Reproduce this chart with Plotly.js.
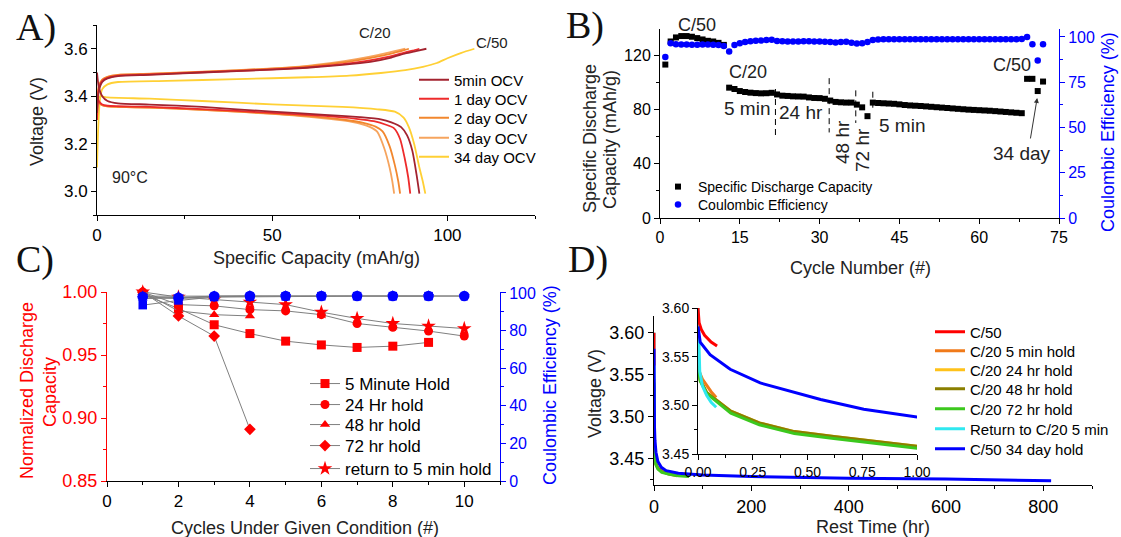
<!DOCTYPE html>
<html><head><meta charset="utf-8">
<script src="https://cdn.plot.ly/plotly-3.0.1.min.js"></script>
<style>html,body{margin:0;padding:0;background:#fff;}#chart{width:1121px;height:537px;}</style>
</head><body><div id="chart"></div>
<script>
// ---------- Panel A: voltage vs specific capacity ----------
const aCh5minX = [0, 0.5, 1.5, 3, 6, 15, 30, 50, 60, 70, 78, 84, 88, 91, 94];
const aCh5minV = [3.33, 3.42, 3.46, 3.475, 3.485, 3.49, 3.50, 3.512, 3.52, 3.532, 3.545, 3.563, 3.58, 3.59, 3.60];
const aCh1dX = [0, 0.5, 1.5, 3, 6, 15, 30, 50, 60, 70, 77, 83, 87, 90, 92];
const aCh1dV = [3.30, 3.43, 3.465, 3.478, 3.487, 3.492, 3.501, 3.513, 3.522, 3.535, 3.549, 3.566, 3.581, 3.592, 3.60];
const aCh2dX = [0, 0.5, 1.5, 3, 6, 15, 30, 50, 60, 68, 75, 81, 85, 87.5, 89];
const aCh2dV = [3.30, 3.44, 3.47, 3.482, 3.49, 3.494, 3.503, 3.516, 3.526, 3.538, 3.553, 3.570, 3.584, 3.593, 3.60];
const aCh3dX = [0, 0.5, 1.5, 3, 6, 15, 30, 50, 60, 67, 74, 80, 84, 86.5, 88];
const aCh3dV = [3.30, 3.44, 3.47, 3.482, 3.49, 3.495, 3.504, 3.517, 3.528, 3.54, 3.556, 3.573, 3.587, 3.595, 3.60];
const aCh34dX = [0, 0.3, 0.8, 1.5, 3, 6, 20, 40, 60, 72, 81, 88, 93, 97, 100, 104, 107.7];
const aCh34dV = [3.10, 3.25, 3.38, 3.43, 3.45, 3.46, 3.465, 3.472, 3.48, 3.487, 3.498, 3.51, 3.524, 3.54, 3.56, 3.583, 3.60];
const aDis5minX = [0, 0.5, 1.5, 3, 6, 15, 30, 50, 65, 75, 81, 84, 86.8, 88.5, 90, 91.2, 92];
const aDis5minV = [3.50, 3.44, 3.40, 3.38, 3.37, 3.365, 3.355, 3.335, 3.322, 3.312, 3.303, 3.29, 3.27, 3.235, 3.17, 3.07, 2.99];
const aDis1dX = [0, 0.5, 1.5, 3, 6, 15, 30, 50, 65, 74, 79, 82.5, 84.8, 86.5, 87.8, 88.8, 89.4];
const aDis1dV = [3.41, 3.38, 3.365, 3.36, 3.358, 3.355, 3.346, 3.33, 3.317, 3.305, 3.295, 3.28, 3.265, 3.22, 3.14, 3.06, 2.99];
const aDis2dX = [0, 0.5, 1.5, 3, 6, 15, 30, 50, 63, 71, 76, 79.5, 81.5, 83.5, 85, 86, 86.5];
const aDis2dV = [3.40, 3.375, 3.362, 3.357, 3.355, 3.352, 3.343, 3.327, 3.313, 3.30, 3.288, 3.272, 3.252, 3.19, 3.11, 3.04, 2.99];
const aDis3dX = [0, 0.5, 1.5, 3, 6, 15, 30, 50, 62, 70, 75, 78, 80, 82, 83.5, 84.3, 84.8];
const aDis3dV = [3.40, 3.375, 3.362, 3.357, 3.355, 3.352, 3.343, 3.326, 3.311, 3.298, 3.285, 3.27, 3.25, 3.18, 3.10, 3.04, 2.99];
const aDis34dX = [0, 0.3, 1, 3, 15, 30, 50, 70, 80, 85, 87.5, 89, 90.5, 92, 93, 93.7];
const aDis34dV = [3.42, 3.39, 3.40, 3.395, 3.39, 3.38, 3.366, 3.355, 3.345, 3.335, 3.31, 3.27, 3.20, 3.10, 3.04, 2.99];
const aNames = ['5min OCV', '1 day OCV', '2 day OCV', '3 day OCV', '34 day OCV'];

// ---------- Panel B: cycling ----------
const bCycle = Array.from({length: 72}, (_, i) => i + 1);
const bCapacity = [113, 130, 133, 134, 134, 133.5, 132.5, 131.5, 130.5, 130, 129, 127.5,
  96, 95, 93.5, 92.8, 92.3, 92, 91.8, 91.9, 92.2,
  91, 90.1, 89.9, 89.6, 89.5, 89.4, 88.8, 88.4, 88.3, 87.8,
  86.5, 85.5, 85.2, 85, 85,
  83.5, 81.5, 75,
  85, 84.7, 84.5, 84.3, 84.1, 83.7, 83.2, 82.9, 82.7, 82.5,
  82.2, 81.9, 81.6, 81.3, 81, 80.7, 80.4, 80.1, 79.8, 79.6, 79.4, 79.2, 79, 78.7, 78.4, 78.1, 77.8, 77.5, 77.2,
  102.5, 102.5, 93.5, 100.5];
const bCE = [89, 96.5, 96, 95.8, 95.8, 95.7, 95.7, 95.8, 95.8, 95.7, 95.5, 95,
  92, 95.5, 96.5, 97.2, 97.6, 97.9, 98.1, 98.3, 98.4,
  97.8, 97.6, 97.5, 97.5, 97.5, 97.6, 97.6, 97.5, 97.5, 97.4,
  97.2, 97, 97.2, 97.3, 96.8,
  96.4, 96.5, 97.2,
  98.3, 98.6, 98.7, 98.8, 98.8, 98.8, 98.8, 98.8, 98.8, 98.8,
  98.8, 98.8, 98.8, 98.8, 98.8, 98.8, 98.8, 98.8, 98.8, 98.8, 98.8, 98.8, 98.8, 98.8, 98.8, 98.8, 98.8, 98.8, 98.9,
  100, 96, 87, 96];
const bDividerCycle = [21.7, 31.8, 36.8, 40];
const bDividerTop = [95, 103, 94, 93];
const bDividerBottom = [60, 63, 70, 80];

// ---------- Panel C: normalized capacity & CE per condition ----------
const cNames = ['5 Minute Hold', '24 Hr hold', '48 hr hold', '72 hr hold', 'return to 5 min hold'];
const cCycles = [[1,2,3,4,5,6,7,8,9], [1,2,3,4,5,6,7,8,9,10], [1,2,3,4], [1,2,3,4], [1,2,3,4,5,6,7,8,9,10]];
const cCapacity = [
  [0.998, 0.987, 0.974, 0.967, 0.961, 0.958, 0.956, 0.957, 0.960],
  [1.0, 0.990, 0.989, 0.986, 0.985, 0.982, 0.975, 0.972, 0.969, 0.965],
  [1.0, 0.985, 0.982, 0.981],
  [1.0, 0.981, 0.965, 0.891],
  [1.0, 0.996, 0.994, 0.992, 0.990, 0.984, 0.979, 0.975, 0.973, 0.971]];
const cCE = [
  [93.5, 96, 97.8, 98, 98.2, 98.3, 98.3, 98.3, 98.3],
  [98, 97.5, 98.3, 98.4, 98.4, 98.4, 98.4, 98.4, 98.4, 98.4],
  [97, 97.3, 98, 98.2],
  [98, 97, 98.2, 98.3],
  [98.3, 98.2, 98.3, 98.4, 98.4, 98.4, 98.4, 98.4, 98.4, 98.3]];
const cSymbols = ['square', 'circle', 'triangle-up', 'diamond', 'star'];

// ---------- Panel D: rest voltage vs time ----------
const dNames = ['C/50', 'C/20 5 min hold', 'C/20 24 hr hold', 'C/20 48 hr hold', 'C/20 72 hr hold', 'Return to C/20 5 min', 'C/50 34 day hold'];
const dTime = [
  [0, 0.005, 0.015, 0.03, 0.06, 0.087],
  [0, 0.005, 0.02, 0.04, 0.06, 0.083],
  [0, 0.01, 0.04, 0.09, 0.15, 0.28, 0.44, 0.62, 0.8, 1.0, 2, 4, 8, 16, 24],
  [0, 0.01, 0.04, 0.09, 0.15, 0.28, 0.44, 0.62, 0.8, 1.0, 2, 4, 8, 16, 30, 48],
  [0, 0.01, 0.04, 0.09, 0.15, 0.28, 0.44, 0.62, 0.8, 1.0, 2, 4, 8, 16, 30, 50, 72],
  [0, 0.003, 0.008, 0.02, 0.04, 0.06, 0.083],
  [0, 0.01, 0.055, 0.147, 0.284, 0.436, 0.56, 0.757, 1.0, 2, 4, 8, 15, 25, 50, 100, 200, 400, 600, 816]];
const dVoltage = [
  [3.60, 3.585, 3.578, 3.572, 3.565, 3.561],
  [3.545, 3.535, 3.527, 3.52, 3.514, 3.508],
  [3.541, 3.526, 3.513, 3.504, 3.494, 3.482, 3.473, 3.468, 3.463, 3.458, 3.45, 3.444, 3.439, 3.436, 3.434],
  [3.541, 3.526, 3.513, 3.504, 3.494, 3.482, 3.473, 3.468, 3.463, 3.458, 3.45, 3.444, 3.439, 3.435, 3.432, 3.43],
  [3.54, 3.525, 3.512, 3.503, 3.492, 3.48, 3.471, 3.466, 3.461, 3.456, 3.449, 3.443, 3.438, 3.434, 3.432, 3.430, 3.429],
  [3.60, 3.56, 3.535, 3.52, 3.51, 3.503, 3.498],
  [3.581, 3.565, 3.552, 3.537, 3.523, 3.514, 3.506, 3.496, 3.488, 3.472, 3.458, 3.447, 3.44, 3.436, 3.433, 3.431, 3.429, 3.427, 3.426, 3.424]];

// ---------- helpers ----------
const W = 1121, H = 537;
const F = 'Liberation Sans, Arial, sans-serif';
const FS = 'Liberation Serif, Times New Roman, serif';
const px = v => v / W, py = v => 1 - v / H;
const legends = {};
let legCount = 0;
function newLegend(x, y, size, color) {
  legCount += 1;
  const name = legCount === 1 ? 'legend' : 'legend' + legCount;
  legends[name] = {x: px(x), y: py(y), xanchor: 'left', yanchor: 'middle', bgcolor: 'rgba(0,0,0,0)',
    borderwidth: 0, font: {family: F, size: size, color: color || '#000'}, itemclick: false, itemdoubleclick: false};
  return name;
}
function axis(o) {
  const c = o.color || '#000';
  const a = {domain: o.domain, range: o.range, anchor: o.anchor, showgrid: false, zeroline: false,
    showline: true, linecolor: c, linewidth: 1, ticks: 'outside', ticklen: 5, tickwidth: 1, tickcolor: c,
    tickmode: 'linear', tick0: o.tick0 || 0, dtick: o.dtick, tickfont: {family: F, size: o.fs, color: c},
    minor: {ticks: 'outside', ticklen: 3, tickwidth: 1, tickcolor: c, dtick: o.minor, tick0: o.tick0 || 0, showgrid: false},
    fixedrange: true, automargin: false};
  if (o.fmt) a.tickformat = o.fmt;
  if (o.side) a.side = o.side;
  if (o.overlaying) a.overlaying = o.overlaying;
  return a;
}
function txt(t, x, y, size, color, angle, family) {
  return {text: t, xref: 'paper', yref: 'paper', x: px(x), y: py(y), xanchor: 'center', yanchor: 'middle',
    showarrow: false, textangle: angle || 0, font: {family: family || F, size: size, color: color || '#000'}};
}

const traces = [];
// Panel A
const aColors = ['#A3232F', '#EE2B2B', '#F2872E', '#F6A45E', '#FFD035'];
const aChX = [aCh5minX, aCh1dX, aCh2dX, aCh3dX, aCh34dX], aChV = [aCh5minV, aCh1dV, aCh2dV, aCh3dV, aCh34dV];
const aDX = [aDis5minX, aDis1dX, aDis2dX, aDis3dX, aDis34dX], aDV = [aDis5minV, aDis1dV, aDis2dV, aDis3dV, aDis34dV];
const aLegY = [80, 99, 118, 138, 157];
const aLegNames = aNames.map((n, i) => newLegend(414, aLegY[i], 15));
for (let i = 4; i >= 0; i--) {
  traces.push({type: 'scatter', mode: 'lines', x: aChX[i], y: aChV[i], xaxis: 'x', yaxis: 'y', name: aNames[i],
    line: {color: aColors[i], width: 1.8, shape: 'spline', smoothing: 0.6}, legend: aLegNames[i], showlegend: true});
  traces.push({type: 'scatter', mode: 'lines', x: aDX[i], y: aDV[i], xaxis: 'x', yaxis: 'y', name: aNames[i],
    line: {color: aColors[i], width: 1.8, shape: 'spline', smoothing: 0.6}, showlegend: false});
}
// Panel B
const bLegCap = newLegend(658, 187, 14);
const bLegCE = newLegend(658, 205, 14);
for (let i = 0; i < bDividerCycle.length; i++) {
  traces.push({type: 'scatter', mode: 'lines', x: [bDividerCycle[i], bDividerCycle[i]], y: [bDividerTop[i], bDividerBottom[i]],
    xaxis: 'x2', yaxis: 'y2', line: {color: '#000', width: 1, dash: '6px,4px'}, showlegend: false, hoverinfo: 'skip'});
}
traces.push({type: 'scatter', mode: 'markers', x: bCycle, y: bCE, xaxis: 'x2', yaxis: 'y3', name: 'Coulombic Efficiency',
  marker: {symbol: 'circle', size: 6.5, color: '#0000FF'}, legend: bLegCE});
traces.push({type: 'scatter', mode: 'markers', x: bCycle, y: bCapacity, xaxis: 'x2', yaxis: 'y2', name: 'Specific Discharge Capacity',
  marker: {symbol: 'square', size: 6, color: '#000'}, legend: bLegCap});
// Panel C
const cLegY = [384, 405, 425, 446, 469];
const cLegNames = cNames.map((n, i) => newLegend(305, cLegY[i], 17));
for (let i = 0; i < 5; i++) {
  traces.push({type: 'scatter', mode: 'lines+markers', x: cCycles[i], y: cCapacity[i], xaxis: 'x3', yaxis: 'y4', name: cNames[i],
    line: {color: '#7f7f7f', width: 1}, marker: {symbol: cSymbols[i], size: i === 4 ? 11 : 9, color: '#FF0000'},
    legend: cLegNames[i], cliponaxis: false});
}
const cCEOrder = [4, 3, 2, 0, 1];
for (const i of cCEOrder) {
  traces.push({type: 'scatter', mode: 'lines+markers', x: cCycles[i], y: cCE[i], xaxis: 'x3', yaxis: 'y5', name: cNames[i] + ' CE',
    line: {color: '#7f7f7f', width: 1}, marker: {symbol: cSymbols[i], size: i === 1 ? 10.5 : 8.5, color: '#0000FF'},
    showlegend: false, cliponaxis: false});
}
// Panel D
const dColors = ['#FF0000', '#F07A1A', '#FFC21A', '#8A7F00', '#3CC81E', '#30E8F0', '#0000FF'];
const dLegY = [332, 351, 370, 389, 409, 429, 449];
const dLegNames = dNames.map((n, i) => newLegend(930, dLegY[i], 15));
const dOrder = [1, 2, 3, 4, 5, 0, 6];
for (const i of dOrder) {
  traces.push({type: 'scatter', mode: 'lines', x: dTime[i], y: dVoltage[i], xaxis: 'x4', yaxis: 'y6', name: dNames[i],
    line: {color: dColors[i], width: 3}, legend: dLegNames[i], showlegend: true});
  traces.push({type: 'scatter', mode: 'lines', x: dTime[i], y: dVoltage[i], xaxis: 'x5', yaxis: 'y7', name: dNames[i],
    line: {color: dColors[i], width: 3}, showlegend: false});
}

const layout = Object.assign({
  width: W, height: H, margin: {l: 0, r: 0, t: 0, b: 0}, paper_bgcolor: '#fff', plot_bgcolor: 'rgba(0,0,0,0)',
  showlegend: true, hovermode: false,
  xaxis: axis({domain: [px(97), px(535)], range: [0, 125], anchor: 'y', dtick: 50, minor: 25, fs: 17}),
  yaxis: axis({domain: [py(215), py(25)], range: [2.9, 3.7], anchor: 'x', dtick: 0.2, tick0: 3.0, minor: 0.1, fs: 17, fmt: '.1f'}),
  xaxis2: axis({domain: [px(660), px(1059)], range: [0, 75], anchor: 'y2', dtick: 15, minor: 7.5, fs: 16}),
  yaxis2: axis({domain: [py(218), py(29)], range: [0, 139.2], anchor: 'x2', dtick: 40, minor: 20, fs: 16}),
  yaxis3: axis({domain: [py(218), py(29)], range: [0, 104.4], anchor: 'x2', overlaying: 'y2', side: 'right', dtick: 25, minor: 12.5, fs: 16, color: '#0000FF'}),
  xaxis3: axis({domain: [px(107), px(500)], range: [0, 11], anchor: 'y4', dtick: 2, minor: 1, fs: 17}),
  yaxis4: axis({domain: [py(481), py(292)], range: [0.85, 1.0], anchor: 'x3', dtick: 0.05, minor: 0.025, tick0: 0.85, fs: 18, fmt: '.2f', color: '#FF0000'}),
  yaxis5: axis({domain: [py(481), py(292)], range: [0, 100.5], anchor: 'x3', overlaying: 'y4', side: 'right', dtick: 20, minor: 10, fs: 16, color: '#0000FF'}),
  xaxis4: axis({domain: [px(654), px(1092)], range: [0, 900], anchor: 'y6', dtick: 200, minor: 100, fs: 18}),
  yaxis6: axis({domain: [py(485), py(316)], range: [3.419, 3.62], anchor: 'x4', dtick: 0.05, tick0: 3.45, minor: 0.025, fs: 18, fmt: '.2f'}),
  xaxis5: axis({domain: [px(698), px(917)], range: [0, 1], anchor: 'y7', dtick: 0.25, minor: 0.125, fs: 14, fmt: '.2f'}),
  yaxis7: axis({domain: [py(454), py(308)], range: [3.45, 3.60], anchor: 'x5', dtick: 0.05, tick0: 3.45, minor: 0.025, fs: 14, fmt: '.2f'}),
  annotations: [
    txt('A)', 36, 27, 38, '#111', 0, FS), txt('B)', 585, 25, 38, '#111', 0, FS),
    txt('C)', 35, 260, 38, '#111', 0, FS), txt('D)', 588, 260, 38, '#111', 0, FS),
    // A
    txt('Voltage (V)', 37, 122, 18, '#222', -90), txt('Specific Capacity (mAh/g)', 316, 258, 18, '#222'),
    txt('C/20', 375, 32, 15, '#222'), txt('C/50', 492, 42, 15, '#222'), txt('90°C', 130, 177, 16, '#222'),
    // B
    txt('Specific Discharge', 590, 139, 18, '#222', -90), txt('Capacity (mAh/g)', 610, 140, 18, '#222', -90),
    txt('Cycle Number (#)', 860, 268, 18, '#222'), txt('Coulombic Efficiency (%)', 1108, 132, 18, '#0000FF', -90),
    txt('C/50', 697, 25, 18, '#222'), txt('C/20', 748, 72, 18, '#222'), txt('5 min', 747, 108, 19, '#222'),
    txt('24 hr', 801, 113, 19, '#222'), txt('48 hr', 842, 142, 19, '#222', -90), txt('72 hr', 862, 150, 19, '#222', -90),
    txt('5 min', 902, 125, 19, '#222'), txt('C/50', 1012, 65, 18, '#222'), txt('34 day', 1022, 153, 19, '#222'),
    {xref: 'x2', yref: 'y2', x: 70.9, y: 88.4, ax: -7, ay: 42, text: '', showarrow: true, arrowhead: 2, arrowsize: 1, arrowwidth: 1, arrowcolor: '#333'},
    // C
    txt('Normalized Discharge', 27, 391, 18, '#FF0000', -90), txt('Capacity', 50, 392, 18, '#FF0000', -90),
    txt('Coulombic Efficiency (%)', 550, 385, 18, '#0000FF', -90), txt('Cycles Under Given Condition (#)', 305, 528, 18, '#222'),
    // D
    txt('Voltage (V)', 595, 394, 18, '#222', -90), txt('Rest Time (hr)', 873, 527, 18, '#222')
  ]
}, legends);

Plotly.newPlot('chart', traces, layout, {staticPlot: true, displayModeBar: false});
</script></body></html>
